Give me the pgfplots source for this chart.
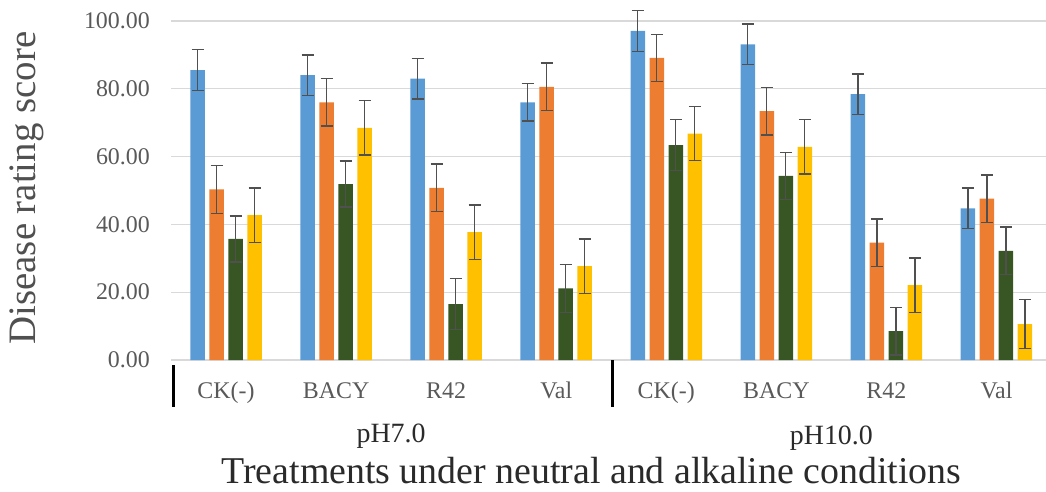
\documentclass[border=0pt]{standalone}
\usepackage{fontspec}
\setmainfont{Liberation Serif}
\usepackage{pgfplots}
\usepackage{pgfplotstable}
\pgfplotsset{compat=1.18}
\definecolor{cblue}{HTML}{5B9BD5}
\definecolor{corange}{HTML}{ED7D31}
\definecolor{cgreen}{HTML}{375623}
\definecolor{cyellow}{HTML}{FFC000}
\definecolor{gridc}{HTML}{D9D9D9}
\definecolor{tickc}{HTML}{595959}
\definecolor{errc}{HTML}{505050}
\definecolor{labc}{HTML}{2A2A2A}

\pgfplotstableread{
x y e
0 85.5 6
1 84.0 6
2 83.0 6
3 76.0 5.5
4 97.1 6
5 93.1 6
6 78.4 6
7 44.7 6
}\blue
\pgfplotstableread{
x y e
0 50.3 7
1 76.0 7
2 50.8 7
3 80.6 7
4 89.1 7
5 73.4 7
6 34.6 7
7 47.6 7
}\orange
\pgfplotstableread{
x y e
0 35.7 6.8
1 51.9 6.8
2 16.5 7.5
3 21.1 7
4 63.4 7.5
5 54.3 7
6 8.5 7
7 32.2 7
}\green
\pgfplotstableread{
x y e
0 42.7 8
1 68.5 8
2 37.7 8
3 27.7 8
4 66.8 8
5 62.9 8
6 22.1 8
7 10.6 7.3
}\yellow

\pgfplotsset{
  errstyle/.style={
    error bars/.cd, y dir=both, y explicit,
    error bar style={draw=errc, line width=1.3bp},
    error mark options={draw=errc, rotate=90, mark size=6bp, line width=1.3bp}
  }
}

\begin{document}
\begin{tikzpicture}
\begin{axis}[
  scale only axis, width=875bp, height=339bp,
  xmin=-0.5, xmax=7.45, ymin=0, ymax=100,
  ybar=4.5bp, bar width=14.5bp,
  clip=false,
  axis line style={draw=none},
  ymajorgrids, grid style={draw=gridc, line width=1.2bp},
  major tick length=0pt, tick style={draw=none},
  ytick={0,20,40,60,80,100},
  xtick={0,1,2,3,4,5,6,7},
  xticklabels={CK(-),BACY,R42,Val,CK(-),BACY,R42,Val},
  yticklabel style={inner sep=0pt, xshift=-21bp, text=tickc, font=\fontsize{24}{24}\selectfont},
  xticklabel style={inner sep=0pt, anchor=base, yshift=-38bp, text=tickc, font=\fontsize{24}{24}\selectfont},
  /pgf/number format/fixed,
  /pgf/number format/fixed zerofill,
  /pgf/number format/precision=2,
  /pgf/number format/assume math mode=true,
]
\addplot[fill=cblue, draw=none, errstyle] table[x=x, y=y, y error=e]{\blue};
\addplot[fill=corange, draw=none, errstyle] table[x=x, y=y, y error=e]{\orange};
\addplot[fill=cgreen, draw=none, errstyle] table[x=x, y=y, y error=e]{\green};
\addplot[fill=cyellow, draw=none, errstyle] table[x=x, y=y, y error=e]{\yellow};

\coordinate (O) at (axis cs:-0.5,0);
\draw[line width=3bp, black] (axis cs:-0.48,-1.5) -- (axis cs:-0.48,-13.9);
\draw[line width=3bp, black] (axis cs:3.51,0) -- (axis cs:3.51,-13.9);
\node[font=\fontsize{28}{28}\selectfont, text=labc, anchor=base, inner sep=0pt] at (axis cs:1.5,-24.2) {pH7.0};
\node[font=\fontsize{28}{28}\selectfont, text=labc, anchor=base, inner sep=0pt] at (axis cs:5.5,-24.8) {pH10.0};
\node[font=\fontsize{38}{38}\selectfont, text=labc, anchor=base, inner sep=0pt] at (axis cs:3.32,-36.5) {Treatments under neutral and alkaline conditions};
\node[rotate=90, anchor=north, inner sep=0pt, text=errc, font=\fontsize{39}{39}\selectfont] at (rel axis cs:-0.184,0.507) {Disease rating score};
\end{axis}
\pgfresetboundingbox
\path ([shift={(-171bp,-132bp)}]O) rectangle ([shift={(875bp,360bp)}]O);
\end{tikzpicture}
\end{document}
